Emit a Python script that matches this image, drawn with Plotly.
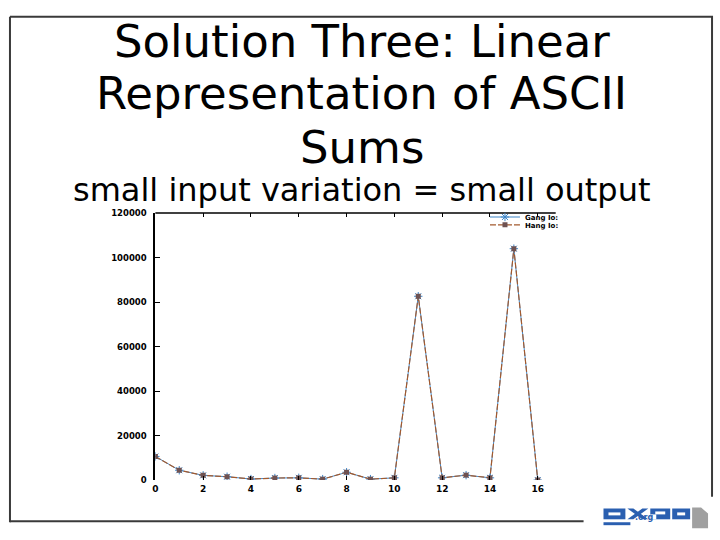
import plotly.graph_objects as go

# Data
x_vals = list(range(0, 17))
series_a = [10600, 4400, 2100, 1500, 450, 900, 1000, 400, 3500, 400, 1000, 82600, 1000, 2200, 1000, 104000, 0]
series_b = [10600, 4400, 2100, 1500, 450, 900, 1000, 400, 3500, 400, 1000, 82600, 1000, 2200, 1000, 104000, 0]
series_names = ["Gang Io:", "Hang Io:"]
x_ticks = [0, 2, 4, 6, 8, 10, 12, 14, 16]
y_ticks = [0, 20000, 40000, 60000, 80000, 100000, 120000]

W, H = 720, 540
def px(x):
    return x / W
def py(y):
    return 1 - y / H

fig = go.Figure()
fig.add_trace(go.Scatter(
    x=x_vals, y=series_a, name=series_names[0], mode="lines+markers", legend="legend",
    line=dict(color="#3f86c8", width=1),
    marker=dict(symbol="asterisk-open", size=7, color="#3f86c8", line=dict(width=1, color="#3f86c8")),
))
fig.add_trace(go.Scatter(
    x=x_vals, y=series_b, name=series_names[1], mode="lines+markers", legend="legend2",
    line=dict(color="#a35a2e", width=1.2, dash="6px,2px"),
    marker=dict(symbol="square", size=5, color="#6e5252"),
))

shapes = []
frame = dict(type="line", xref="paper", yref="paper", line=dict(color="#3a3a3a", width=2))
shapes.append({**frame, "x0": px(7), "x1": px(713), "y0": py(12), "y1": py(12)})
shapes.append({**frame, "x0": px(7), "x1": px(7), "y0": py(12), "y1": py(527)})
shapes.append({**frame, "x0": px(7), "x1": px(583), "y0": py(526), "y1": py(526)})
shapes.append({**frame, "x0": px(712), "x1": px(712), "y0": py(12), "y1": py(501)})
shapes.append(dict(type="line", xref="paper", yref="paper", x0=px(153), x1=px(555), y0=py(212), y1=py(212),
                   line=dict(color="black", width=1.5)))

blue = "#2a5fb0"
def rect(x0, y0, x1, y1, color):
    return dict(type="rect", xref="paper", yref="paper", x0=px(x0), x1=px(x1), y0=py(y0), y1=py(y1),
                line=dict(width=0), fillcolor=color)
def poly(points, color):
    d = "M " + " L ".join(f"{px(a):.5f},{py(b):.5f}" for a, b in points) + " Z"
    return dict(type="path", xref="paper", yref="paper", path=d, line=dict(width=0), fillcolor=color)
shapes += [
    rect(603, 513, 625, 524, blue), rect(608, 517, 620, 520, "white"),
    poly([(627, 513), (633, 513), (648, 524), (642, 524)], blue),
    poly([(642, 513), (648, 513), (633, 524), (627, 524)], blue),
    rect(650, 513, 670, 524, blue), rect(655, 516, 665, 519, "white"), rect(650, 519, 656, 524, "white"),
    rect(672, 513, 690, 524, blue), rect(677, 517, 685, 520, "white"),
    rect(603, 527, 630, 530, blue),
    poly([(692, 512), (701, 512), (708, 518), (708, 533), (692, 533)], "#a0a0a0"),
]
annotations = [
    dict(text="Solution Three: Linear", x=0.5, y=py(37)),
    dict(text="Representation of ASCII", x=0.5, y=py(90)),
    dict(text="Sums", x=0.5, y=py(145)),
]
annotations = [dict(**a, xref="paper", yref="paper", showarrow=False, yanchor="middle", xanchor="center",
                    font=dict(family="DejaVu Sans", size=45, color="black")) for a in annotations]
annotations.append(dict(text="small input variation = small output", x=0.5, y=py(188), xref="paper", yref="paper",
                        showarrow=False, yanchor="middle", xanchor="center",
                        font=dict(family="DejaVu Sans", size=32, color="black")))
annotations.append(dict(text="<b>.org</b>", x=px(633), y=py(529), xref="paper", yref="paper", showarrow=False,
                        xanchor="left", font=dict(family="DejaVu Sans", size=8, color=blue)))

legend_common = dict(xanchor="left", yanchor="middle", bgcolor="rgba(0,0,0,0)",
                     font=dict(family="DejaVu Sans", size=7, color="black", weight="bold"),
                     itemwidth=30)
fig.update_layout(
    width=W, height=H, margin=dict(l=0, r=0, t=0, b=0),
    paper_bgcolor="white", plot_bgcolor="white",
    showlegend=True,
    legend=dict(x=px(484), y=py(216), **legend_common),
    legend2=dict(x=px(484), y=py(224), **legend_common),
    shapes=shapes, annotations=annotations,
    xaxis=dict(domain=[px(153), px(555)], range=[0, 16.75], tickvals=x_ticks,
               ticktext=[f"<b>{t}</b>" for t in x_ticks],
               showgrid=False, zeroline=False, showline=False, ticks="inside", ticklen=4,
               tickcolor="black", mirror="ticks", ticklabelstandoff=2,
               tickfont=dict(family="DejaVu Sans", size=9, color="black")),
    yaxis=dict(domain=[py(484), py(212)], range=[0, 120000], tickvals=y_ticks,
               ticktext=[f"<b>{t}</b>" for t in y_ticks],
               showgrid=False, zeroline=False, showline=True, linecolor="black", linewidth=2,
               ticks="inside", ticklen=5, tickcolor="black", ticklabelstandoff=5,
               tickfont=dict(family="DejaVu Sans", size=8.5, color="black")),
)

fig.write_html("out.html", config={"displayModeBar": False},
               post_script="document.body.style.margin='0';document.body.style.overflow='hidden';")
